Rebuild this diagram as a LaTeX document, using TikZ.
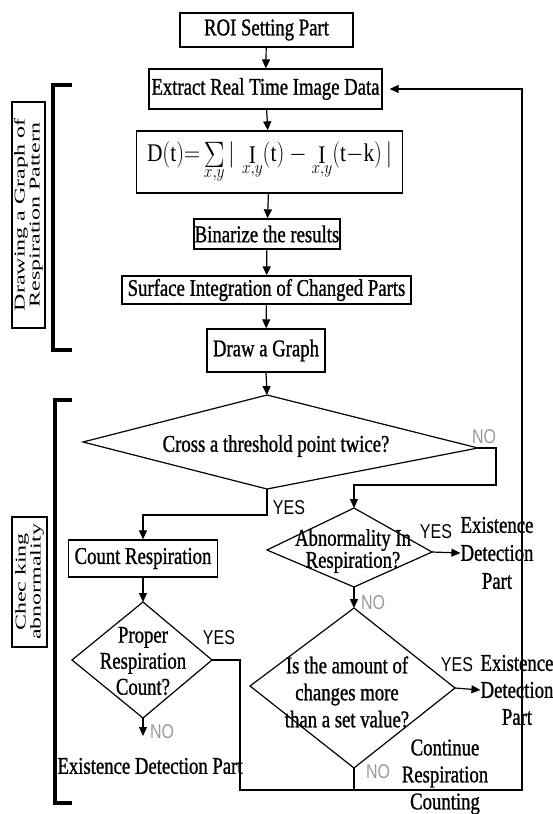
\documentclass[tikz,border=0pt]{standalone}
\usepackage{fontspec}
\usepackage{graphicx}
\setmainfont{Liberation Serif}
\newfontfamily\condserif[FakeStretch=0.78,FakeBold=1]{Liberation Serif}
\newfontfamily\condsans[FakeStretch=0.8]{Liberation Sans}
\newfontfamily\wideserif[FakeStretch=1.6]{Liberation Serif}
\usetikzlibrary{arrows.meta}
\definecolor{nogray}{gray}{0.6}
\tikzset{
  box/.style={draw, line width=1.3pt, inner sep=0pt, font=\condserif\fontsize{24}{27}\selectfont},
  txt/.style={inner sep=0pt, align=center, font=\condserif\fontsize{24}{27}\selectfont},
  yeslab/.style={inner sep=0pt, font=\condsans\fontsize{20}{20}\selectfont},
  nolab/.style={yeslab, text=nogray},
  arr/.style={line width=1.2pt, -{Triangle[length=9pt,width=8pt]}},
  conn/.style={line width=1.2pt},
  dia/.style={line width=1.2pt, line join=miter},
  brk/.style={line width=4pt},
  side/.style={draw, line width=1.2pt, rotate=90, inner sep=0pt, align=center, font=\wideserif\fontsize{15}{15}\selectfont}
}
\begin{document}
\begin{tikzpicture}[x=1pt,y=-1pt]
\useasboundingbox (0,0) rectangle (553,814);

% boxes
\node[box, minimum width=173pt, minimum height=34pt] (roi) at (266.5,30) {ROI Setting Part};
\node[box, minimum width=233pt, minimum height=40pt] (extract) at (265.5,89) {Extract Real Time Image Data};
\node[box, minimum width=266pt, minimum height=62pt] (formula) at (269.5,162)
  {\resizebox*{245pt}{40pt}{$\mathrm{D(t)}{=}\mathop{\vcenter{\hbox{\scalebox{1.4}{$\Sigma$}}}}\limits_{x,y}\big|\,\mathop{\mathrm{I}}\limits_{x,y}(\mathrm{t})-\mathop{\mathrm{I}}\limits_{x,y}(\mathrm{t}{-}\mathrm{k})\,\big|$}};
\node[box, minimum width=146pt, minimum height=30pt] (binar) at (267,234) {Binarize the results};
\node[box, minimum width=289pt, minimum height=28pt] (surf) at (266.5,290) {Surface Integration of Changed Parts};
\node[box, minimum width=118pt, minimum height=43pt] (graph) at (266,350.5) {Draw a Graph};
\node[box, minimum width=149pt, minimum height=37pt] (count) at (143,558.5) {Count Respiration};

% diamond corners
\coordinate (d1t) at (267,395); \coordinate (d1r) at (478,448);
\coordinate (d1b) at (267,489); \coordinate (d1l) at (83,442);
\coordinate (d2t) at (354,508); \coordinate (d2r) at (432,552);
\coordinate (d2b) at (354,587); \coordinate (d2l) at (267,550);
\coordinate (d3t) at (143,602); \coordinate (d3r) at (212,660);
\coordinate (d3b) at (143,718); \coordinate (d3l) at (72,660);
\coordinate (d4t) at (354,608); \coordinate (d4r) at (455,688);
\coordinate (d4b) at (354,768); \coordinate (d4l) at (250,686);
\draw[dia] (d1t) -- (d1r) -- (d1b) -- (d1l) -- cycle;
\draw[dia] (d2t) -- (d2r) -- (d2b) -- (d2l) -- cycle;
\draw[dia] (d3t) -- (d3r) -- (d3b) -- (d3l) -- cycle;
\draw[dia] (d4t) -- (d4r) -- (d4b) -- (d4l) -- cycle;

% diamond texts
\node[txt] (q1) at (276,446) {Cross a threshold point twice?};
\node[txt, font=\condserif\fontsize{24}{22}\selectfont] (q2) at (353,551) {Abnormality In\\Respiration?};
\node[txt, font=\condserif\fontsize{24}{26}\selectfont] (q3) at (143,661) {Proper\\Respiration\\Count?};
\node[txt] (q4) at (347,692) {Is the amount of\\changes more\\than a set value?};

% outcome texts
\node[txt, font=\condserif\fontsize{24}{28}\selectfont] (ed2) at (497,553) {Existence\\Detection\\Part};
\node[txt] (ed4) at (517,690) {Existence\\Detection\\Part};
\node[txt] (ed3) at (150,766) {Existence Detection Part};
\node[txt, font=\condserif\fontsize{24}{27}\selectfont] (cont) at (445,777) {Continue\\Respiration\\Counting};

% YES / NO labels
\node[yeslab] (y1) at (289,508) {YES};
\node[yeslab] (y2) at (436,532) {YES};
\node[yeslab] (y3) at (219,638) {YES};
\node[yeslab] (y4) at (457,665) {YES};
\node[nolab] (n1) at (484,437) {NO};
\node[nolab] (n2) at (373,603) {NO};
\node[nolab] (n3) at (162,732) {NO};
\node[nolab] (n4) at (378,772) {NO};

% connectors
\draw[arr] (roi) -- (extract);
\draw[arr] (extract) -- (formula);
\draw[arr] (formula) -- (binar);
\draw[arr] (binar) -- (surf);
\draw[arr] (surf) -- (graph);
\draw[arr] (graph.south) -- (d1t);
\coordinate (j2) at (267,515);
\draw[arr] (d1b) -- (j2) -| (count.north);
\coordinate (j1) at (496,485);
\draw[arr] (d1r) -| (j1) -| (d2t);
\draw[arr] (d2r) -- (ed2.west);
\draw[arr] (d2b) -- (d4t);
\draw[arr] (d4r) -- (ed4.west);
\draw[arr] (count.south) -- (d3t);
\coordinate (e3) at (143,736);
\draw[arr] (d3b) -- (e3);
\coordinate (c1) at (240,790);
\coordinate (c2) at (522,790);
\draw[conn] (d4b) -- (d4b |- c1);
\draw[arr, shorten >=7pt] (d3r) -| (c1) -- (c2) |- (extract.east);

% side brackets and labels
\draw[brk] (72,85) -- (53,85) -- (53,350) -- (72,350);
\draw[brk] (72,400) -- (55,400) -- (55,803) -- (72,803);
\node[side, minimum width=226pt, minimum height=33pt] (lab1) at (28.5,215) {Drawing a Graph of\\Respiration Pattern};
\node[side, minimum width=130pt, minimum height=35pt] (lab2) at (29.5,582) {Chec king\\abnormality};
\end{tikzpicture}
\end{document}
